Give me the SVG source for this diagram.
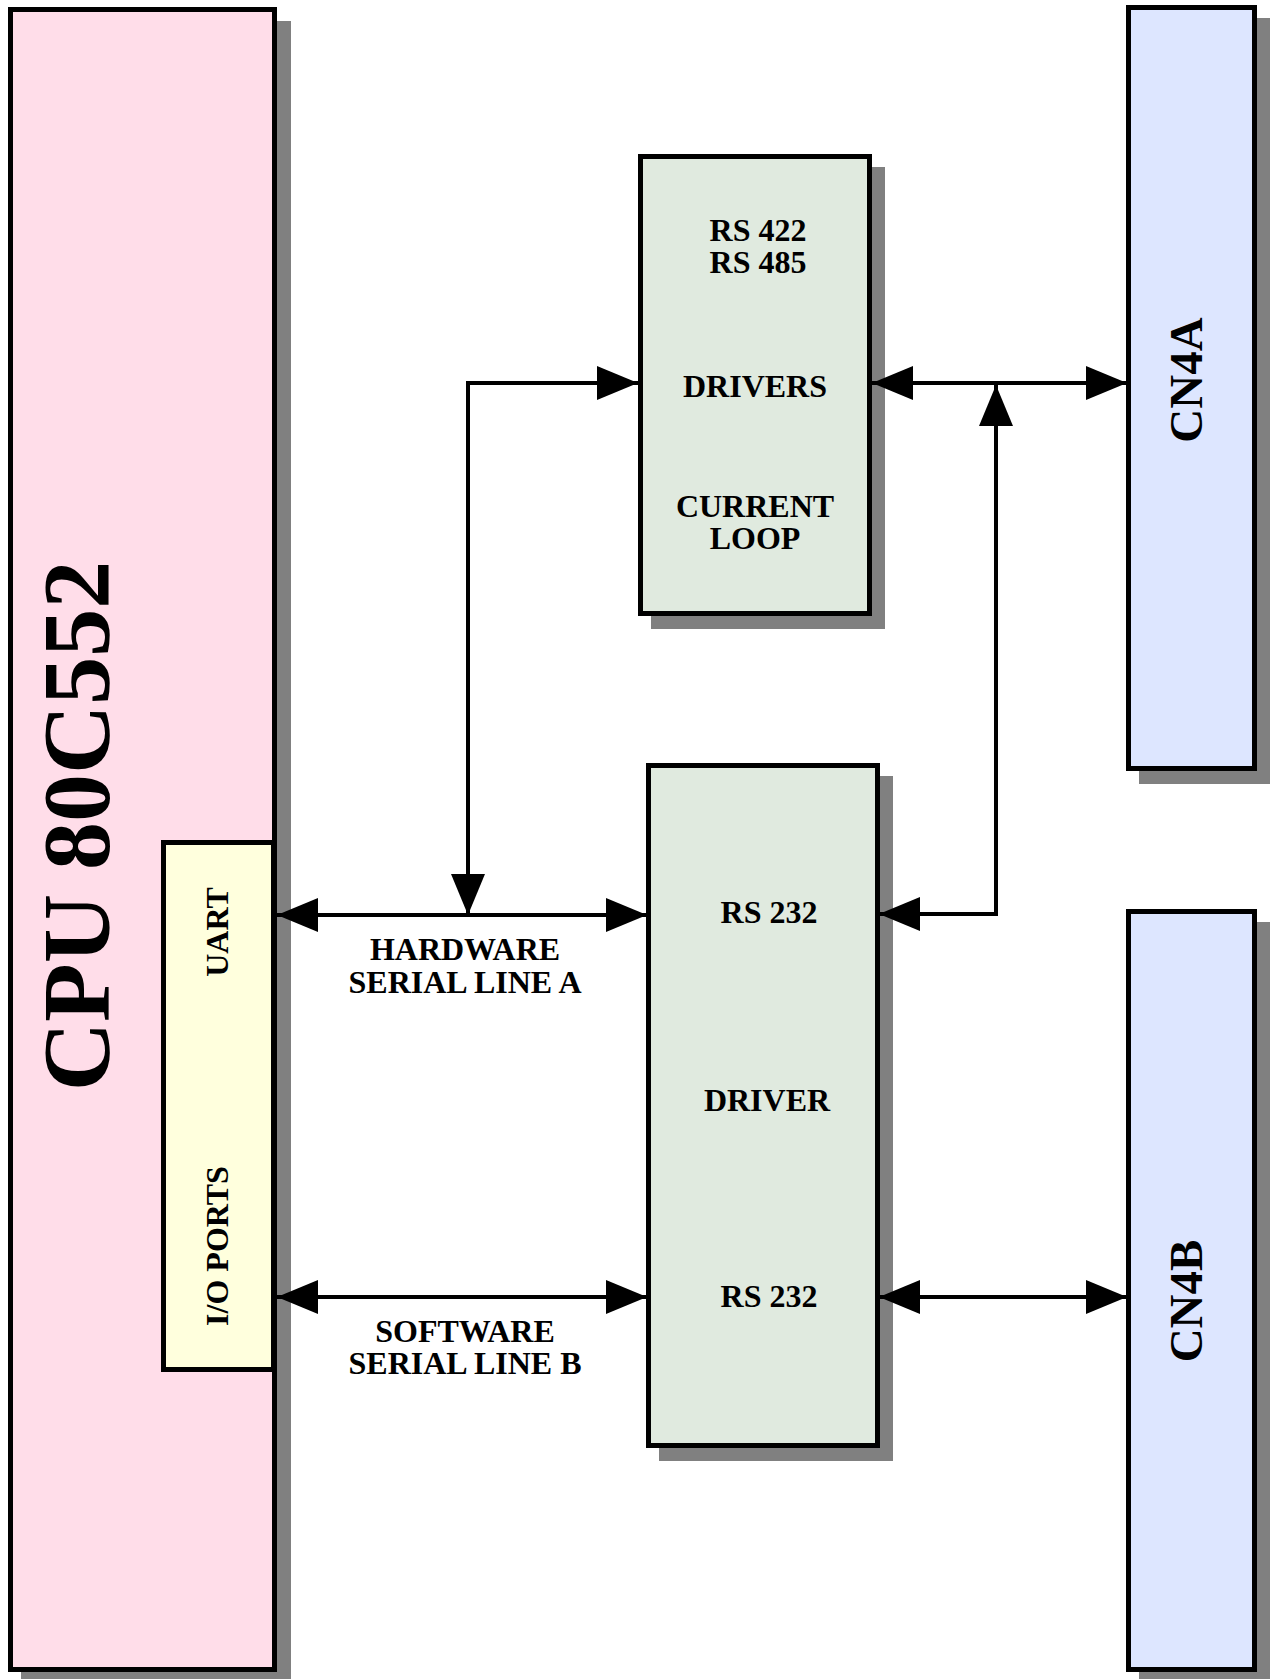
<svg xmlns="http://www.w3.org/2000/svg" width="1271" height="1679" viewBox="0 0 1271 1679">
<style>
.shadow{fill:#808080;stroke:none}
.box{stroke:#000;stroke-width:5}
.cpu{fill:#FFDDE9}
.uart{fill:#FFFFDD}
.drv{fill:#E0EADF}
.cn{fill:#DDE6FF}
.lbl{font-family:"Liberation Serif","Times New Roman",serif;font-weight:bold;font-size:32px;text-anchor:middle;fill:#000}
.big{font-family:"Liberation Serif","Times New Roman",serif;font-weight:bold;font-size:96px;text-anchor:middle;fill:#000}
.cnl{font-family:"Liberation Serif","Times New Roman",serif;font-weight:bold;font-size:47px;text-anchor:middle;fill:#000}
.wire{fill:none;stroke:#000;stroke-width:4}
</style>
<defs>
<marker id="ah" markerUnits="userSpaceOnUse" markerWidth="42" markerHeight="36" viewBox="0 0 42 36" refX="41" refY="18" orient="auto-start-reverse">
<path d="M0,1 L41,18 L0,35 z" fill="#000"/>
</marker>
</defs>
<g id="cpu">
<rect class="shadow" x="21" y="21" width="270" height="1664"/>
<rect class="box cpu" x="10.5" y="9.5" width="264" height="1660"/>
<text class="big" transform="translate(109,826) rotate(-90)">CPU 80C552</text>
</g>
<g id="uart">
<rect class="box uart" x="163.5" y="842.5" width="110" height="527"/>
<text class="lbl" transform="translate(228,932) rotate(-90)">UART</text>
<text class="lbl" transform="translate(228,1246) rotate(-90)">I/O PORTS</text>
</g>
<g id="drivers485">
<rect class="shadow" x="651" y="167" width="234" height="462"/>
<rect class="box drv" x="640.5" y="156.5" width="229" height="457"/>
<text class="lbl" x="758" y="241">RS 422</text>
<text class="lbl" x="758" y="273">RS 485</text>
<text class="lbl" x="755" y="397">DRIVERS</text>
<text class="lbl" x="755" y="517">CURRENT</text>
<text class="lbl" x="755" y="549">LOOP</text>
</g>
<g id="driver232">
<rect class="shadow" x="659" y="776" width="234" height="685"/>
<rect class="box drv" x="648.5" y="765.5" width="229" height="680"/>
<text class="lbl" x="769" y="923">RS 232</text>
<text class="lbl" x="767" y="1111">DRIVER</text>
<text class="lbl" x="769" y="1307">RS 232</text>
</g>
<g id="cn4a">
<rect class="shadow" x="1139" y="18" width="131" height="766"/>
<rect class="box cn" x="1128.5" y="7.5" width="126" height="761"/>
<text class="cnl" transform="translate(1202,380) rotate(-90)">CN4A</text>
</g>
<g id="cn4b">
<rect class="shadow" x="1139" y="922" width="131" height="763"/>
<rect class="box cn" x="1128.5" y="911.5" width="126" height="758"/>
<text class="cnl" transform="translate(1202,1301) rotate(-90)">CN4B</text>
</g>
<g id="connectors">
<path class="wire" d="M277,915 H647" marker-start="url(#ah)" marker-end="url(#ah)"/>
<path class="wire" d="M468,915 V383 H638" marker-start="url(#ah)" marker-end="url(#ah)"/>
<path class="wire" d="M872,383 H1127" marker-start="url(#ah)" marker-end="url(#ah)"/>
<path class="wire" d="M879,914 H996 V385" marker-start="url(#ah)" marker-end="url(#ah)"/>
<path class="wire" d="M277,1297 H647" marker-start="url(#ah)" marker-end="url(#ah)"/>
<path class="wire" d="M879,1297 H1127" marker-start="url(#ah)" marker-end="url(#ah)"/>
<text class="lbl" x="465" y="960">HARDWARE</text>
<text class="lbl" x="465" y="993">SERIAL LINE A</text>
<text class="lbl" x="465" y="1342">SOFTWARE</text>
<text class="lbl" x="465" y="1374">SERIAL LINE B</text>
</g>
</svg>
